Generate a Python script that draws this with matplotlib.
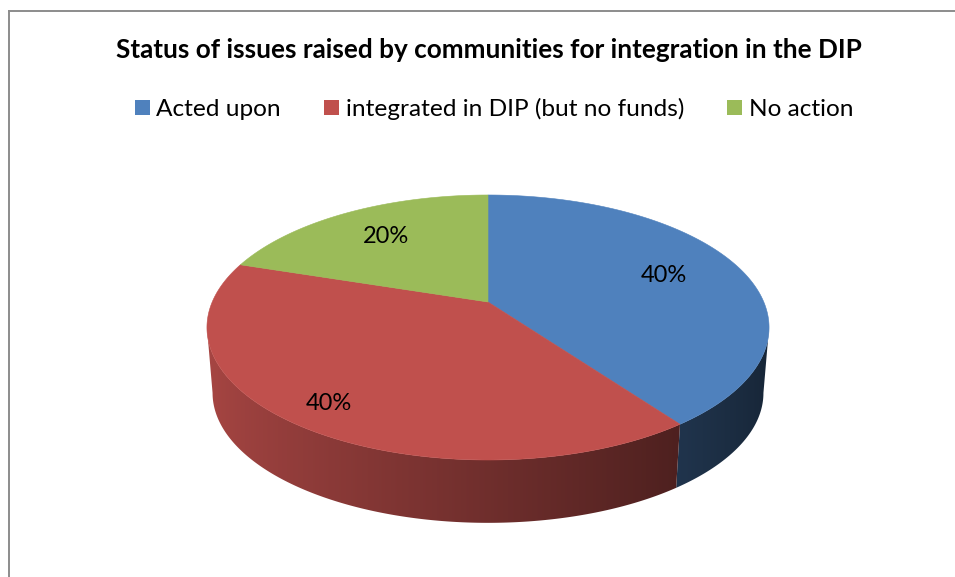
import numpy as np
import matplotlib
matplotlib.use("Agg")
import matplotlib.pyplot as plt
from matplotlib.patches import Polygon, Patch
from matplotlib.lines import Line2D

# ---- data ----
categories = ["Acted upon", "integrated in DIP (but no funds)", "No action"]
values = [40, 40, 20]
title = "Status of issues raised by communities for integration in the DIP"

# ---- style ----
colors = ["#4F81BD", "#C0504D", "#9BBB59"]
label_radius = [0.70, 0.85, 0.70]
FONT = "Lato"

# 3D-pie projection layout (pixels)
CX, CY = 488, 302
K = 0.1924        # perspective strength
SX, SY = 275.8, 127.6
DEPTH = 66        # vertical offset of the bottom rim
SB = 0.98         # bottom rim appears slightly smaller (farther away)
SIL = np.degrees(np.arcsin(K))   # silhouette angle

def proj(theta_deg, r=1.0):
    t = np.radians(theta_deg)
    u = r * np.cos(t)
    v = r * np.sin(t)
    w = 1 + K * v
    return CX + SX * u / w, CY - SY * v / w

def proj_bottom(theta_deg):
    x, y = proj(theta_deg)
    return CX + (x - CX) * SB, CY + DEPTH + (y - CY) * SB

def shade_factor(theta_deg):
    return 0.58 - 0.30 * np.cos(np.radians(theta_deg))

fig = plt.figure(figsize=(9.55, 5.77), dpi=100)
ax = fig.add_axes([0, 0, 1, 1])

total = float(sum(values))
bounds = 90 - 360 * np.concatenate([[0], np.cumsum(values)]) / total

# side walls: visible front part, gradient-filled
for i, col in enumerate(colors):
    a1, a2 = bounds[i], bounds[i + 1]       # a1 > a2 (clockwise)
    for shift in (-360, 0, 360):
        lo = max(a2, -180 + SIL + shift)
        hi = min(a1, -SIL + shift)
        if hi <= lo:
            continue
        ts = np.linspace(lo, hi, 400)
        xs, ys = proj(ts)
        bx, by = proj_bottom(ts)
        poly_pts = list(zip(xs, ys)) + list(zip(bx[::-1], by[::-1]))
        poly = Polygon(poly_pts, closed=True, facecolor="none", edgecolor="none")
        ax.add_patch(poly)
        order = np.argsort(xs)
        xmin, xmax = min(xs.min(), bx.min()), max(xs.max(), bx.max())
        gx = np.linspace(xmin, xmax, 600)
        gt = np.interp(gx, xs[order], ts[order])
        f = shade_factor(gt)
        rgb = np.array(matplotlib.colors.to_rgb(col))
        img = np.clip(f[None, :, None] * rgb[None, None, :], 0, 1)
        im = ax.imshow(img, extent=[xmin, xmax, max(ys.max(), by.max()), min(ys.min(), by.min())],
                       aspect="auto", interpolation="bilinear", zorder=2)
        im.set_clip_path(poly)

ax.set_xlim(0, 955)
ax.set_ylim(577, 0)
ax.axis("off")

# top faces
for i, col in enumerate(colors):
    a1, a2 = bounds[i], bounds[i + 1]
    ts = np.linspace(a1, a2, 300)
    xs, ys = proj(ts)
    pts = [(CX, CY)] + list(zip(xs, ys))
    ax.add_patch(Polygon(pts, closed=True, facecolor=col, edgecolor=col, lw=0.4, zorder=3))

# data labels
for i, v in enumerate(values):
    mid = 0.5 * (bounds[i] + bounds[i + 1])
    lx, ly = proj(mid, label_radius[i])
    ax.text(lx, ly, f"{v / total * 100:.0f}%", ha="center", va="center",
            fontsize=17, family=FONT, color="black", zorder=5)

# title
ax.text(489, 58, title, ha="center", va="baseline", fontsize=18.8,
        fontweight="bold", family=FONT, color="black")

# legend
handles = [Patch(facecolor=c, edgecolor="none", label=l) for c, l in zip(colors, categories)]
fig.legend(handles=handles, loc="center", bbox_to_anchor=(494 / 955, 1 - 109 / 577),
           ncol=3, frameon=False, prop={"family": FONT, "size": 17.6},
           handlelength=0.62, handleheight=0.62, handletextpad=0.27,
           columnspacing=1.76, borderaxespad=0)

# chart area border (partially visible)
ax.add_line(Line2D([9, 9], [577, 11], color="#8C8C8C", lw=1.4))
ax.add_line(Line2D([9, 955], [11, 11], color="#8C8C8C", lw=1.4))

fig.savefig("out.png", dpi=100)
